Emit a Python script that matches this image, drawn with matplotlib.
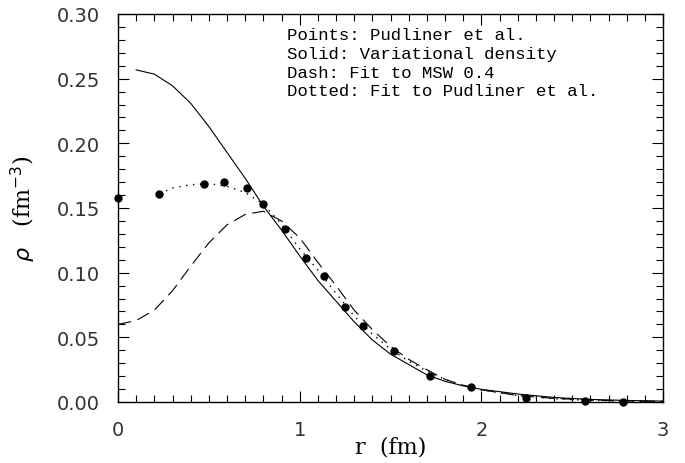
import numpy as np
import matplotlib
matplotlib.use("Agg")
import matplotlib.pyplot as plt
from matplotlib.ticker import MultipleLocator

# Pudliner et al. points
r_pts = [0.0, 0.226, 0.473, 0.583, 0.71, 0.798, 0.92, 1.033, 1.134, 1.248,
         1.347, 1.517, 1.719, 1.943, 2.245, 2.57, 2.78]
rho_pts = [0.158, 0.161, 0.1686, 0.170, 0.1655, 0.153, 0.134, 0.1116, 0.0975, 0.0737,
           0.0585, 0.0392, 0.0203, 0.0114, 0.0033, 0.0008, 0.0002]

# Solid: variational density
r_sol = [0.10, 0.2, 0.3, 0.4, 0.5, 0.6, 0.7, 0.8, 0.9, 1.0, 1.1, 1.2, 1.3,
         1.4, 1.5, 1.6, 1.7, 1.8, 1.9, 2.0, 2.2, 2.4, 2.6, 2.8, 3.0]
rho_sol = [0.2568, 0.2535, 0.2445, 0.231, 0.213, 0.193, 0.173, 0.1515, 0.133, 0.113,
           0.094, 0.078, 0.062, 0.048, 0.037, 0.029, 0.021, 0.016, 0.0125, 0.0098,
           0.0062, 0.0035, 0.0020, 0.0012, 0.0007]

# Dash: fit to MSW 0.4
r_dash = [0.0, 0.1, 0.2, 0.3, 0.4, 0.5, 0.6, 0.7, 0.8, 0.9, 1.0, 1.1, 1.2, 1.3,
          1.4, 1.5, 1.6, 1.7, 1.8, 1.9, 2.0, 2.2, 2.4, 2.6, 2.8, 3.0]
rho_dash = [0.060, 0.063, 0.071, 0.086, 0.105, 0.123, 0.137, 0.145, 0.1475, 0.140, 0.127,
            0.108, 0.090, 0.071, 0.056, 0.043, 0.033, 0.025, 0.0175, 0.013, 0.0095,
            0.005, 0.0028, 0.0015, 0.0008, 0.0004]

# Dotted: fit to Pudliner et al.
r_dot = [0.23, 0.3, 0.4, 0.5, 0.6, 0.7, 0.8, 0.9, 1.0, 1.1, 1.2, 1.3, 1.4, 1.5,
         1.6, 1.7, 1.8, 1.9, 2.0, 2.2, 2.4, 2.6, 2.8, 3.0]
rho_dot = [0.161, 0.1655, 0.168, 0.1688, 0.1668, 0.162, 0.153, 0.1375, 0.1185, 0.102,
           0.084, 0.0665, 0.0525, 0.041, 0.0315, 0.024, 0.0175, 0.0125, 0.0092,
           0.005, 0.0025, 0.0013, 0.0007, 0.0003]

legend_lines = ["Points: Pudliner et al.", "Solid: Variational density",
                "Dash: Fit to MSW 0.4", "Dotted: Fit to Pudliner et al."]

fig = plt.figure(figsize=(6.85, 4.64), dpi=100)
ax = fig.add_axes([118 / 685, 1 - 403 / 464, 545 / 685, 388 / 464])

ax.plot(r_sol, rho_sol, color="black", lw=0.8)
ax.plot(r_dash, rho_dash, color="black", lw=0.8, ls=(0, (12, 6)))
ax.plot(r_dot, rho_dot, color="black", lw=1.0, ls=(0, (1, 4)))
ax.plot(r_pts, rho_pts, "o", color="black", ms=5, clip_on=False)

ax.set_xlim(0, 3)
ax.set_ylim(0, 0.30)
ax.xaxis.set_major_locator(MultipleLocator(1))
ax.xaxis.set_minor_locator(MultipleLocator(0.1))
ax.yaxis.set_major_locator(MultipleLocator(0.05))
ax.yaxis.set_minor_locator(MultipleLocator(0.01))
ax.set_yticklabels([f"{v:.2f}" for v in ax.get_yticks()])
ax.tick_params(which="both", direction="in", top=True, right=True, width=0.8)
ax.tick_params(which="major", length=8, labelsize=14, pad=13)
ax.tick_params(which="minor", length=5)
for lab in ax.get_xticklabels() + ax.get_yticklabels():
    lab.set_family("DejaVu Sans")
    lab.set_color("#333333")
for s in ax.spines.values():
    s.set_linewidth(1.0)

ax.set_xlabel("r  (fm)", family="DejaVu Serif", fontsize=16)
ax.set_ylabel(r"$\rho$   (fm$^{-3}$)", family="DejaVu Serif", fontsize=16)
ax.xaxis.set_label_coords(0.5, (403 - 437) / 388)
ax.yaxis.set_label_coords((38 - 118) / 545, 0.5)

# text block in the upper right
for i, t in enumerate(legend_lines):
    fig.text(287 / 685, 1 - (35 + 19 * i) / 464, t, family="Liberation Mono",
             fontsize=12.5, va="center", ha="left")

fig.savefig("out.png", dpi=100)
